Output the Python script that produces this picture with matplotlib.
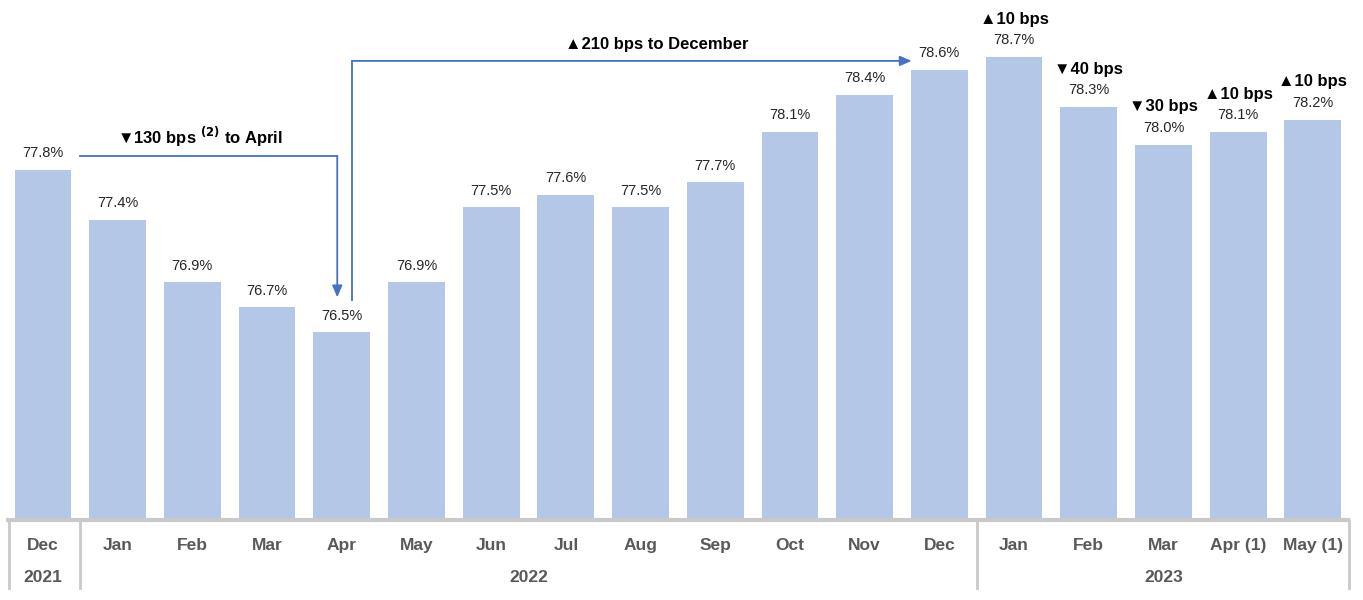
import matplotlib
matplotlib.use("Agg")
import matplotlib.pyplot as plt

plt.rcParams['font.family'] = ['Liberation Sans', 'DejaVu Sans']

# data
months = ["Dec", "Jan", "Feb", "Mar", "Apr", "May", "Jun", "Jul", "Aug", "Sep",
          "Oct", "Nov", "Dec", "Jan", "Feb", "Mar", "Apr (1)", "May (1)"]
values = [77.8, 77.4, 76.9, 76.7, 76.5, 76.9, 77.5, 77.6, 77.5, 77.7,
          78.1, 78.4, 78.6, 78.7, 78.3, 78.0, 78.1, 78.2]
years = ["2021", "2022", "2023"]
year_spans = [(0, 0), (1, 12), (13, 17)]   # first / last bar index of each year
bps_labels = {13: "▲10 bps", 14: "▼40 bps", 15: "▼30 bps", 16: "▲10 bps", 17: "▲10 bps"}

BAR = "#B4C7E7"
ARROW = "#4472C4"
GRID = "#C9C9C9"
LABEL = "#595959"

fig = plt.figure(figsize=(13.63, 6.0), dpi=100)
ax = fig.add_axes([0.0041, 0.1333, 0.9865, 0.83])

x = list(range(len(values)))
ax.bar(x, values, width=0.76, color=BAR, bottom=0)
ax.set_xlim(-0.5, len(values) - 0.5)
ax.set_ylim(75.0, 75.0 + 0.83 * 600 / 125.1)
ax.axis("off")

# value labels (and change labels for 2023)
for i, v in enumerate(values):
    ax.annotate(f"{v:.1f}%", (i, v), xytext=(0, 7), textcoords="offset points",
                ha="center", va="bottom", fontsize=10.5, color="#262626")
    if i in bps_labels:
        ax.annotate(bps_labels[i], (i, v), xytext=(0, 22), textcoords="offset points",
                    ha="center", va="bottom", fontsize=12, fontweight="bold", color="black")

# category table under the bars
tr = ax.get_xaxis_transform()
ax.plot([-0.5, len(values) - 0.5], [0, 0], transform=tr, color=GRID, lw=3,
        clip_on=False, solid_capstyle="butt")
for xb in [-0.45, 0.5, 12.5, len(values) - 0.52]:
    ax.plot([xb, xb], [0, -0.137], transform=tr, color=GRID, lw=2, clip_on=False)
for i, m in enumerate(months):
    ax.text(i, -0.052, m, transform=tr, ha="center", va="center",
            fontsize=12.5, fontweight="bold", color=LABEL)
for yr, (a, b) in zip(years, year_spans):
    ax.text((a + b) / 2, -0.1145, yr, transform=tr, ha="center", va="center",
            fontsize=12.5, fontweight="bold", color=LABEL)

# arrow: Dec 2021 -> April 2022
i0, i1, i2 = 0, 4, 12
y1 = values[i0] + 0.11
ax.plot([i0 + 0.5, i1 - 0.06], [y1, y1], color=ARROW, lw=1.3)
ax.annotate("", xy=(i1 - 0.06, values[i1] + 0.28), xytext=(i1 - 0.06, y1),
            arrowprops=dict(arrowstyle="-|>,head_length=0.7,head_width=0.3",
                            color=ARROW, lw=1.3, shrinkA=0, shrinkB=0))
ax.text(2.1, y1 + 0.15, "▼130 bps $^{\\mathbf{(2)}}$ to April", ha="center", va="center",
        fontsize=12, fontweight="bold", color="black")

# arrow: April 2022 -> December 2022
y2 = values[i2] + 0.07
ax.plot([i1 + 0.14, i1 + 0.14], [values[i1] + 0.26, y2], color=ARROW, lw=1.3)
ax.annotate("", xy=(i2 - 0.37, y2), xytext=(i1 + 0.14, y2),
            arrowprops=dict(arrowstyle="-|>,head_length=0.7,head_width=0.3",
                            color=ARROW, lw=1.3, shrinkA=0, shrinkB=0))
ax.text(8.22, y2 + 0.13, "▲210 bps to December", ha="center", va="center",
        fontsize=12, fontweight="bold", color="black")

fig.savefig("out.png", dpi=100, facecolor="white")
